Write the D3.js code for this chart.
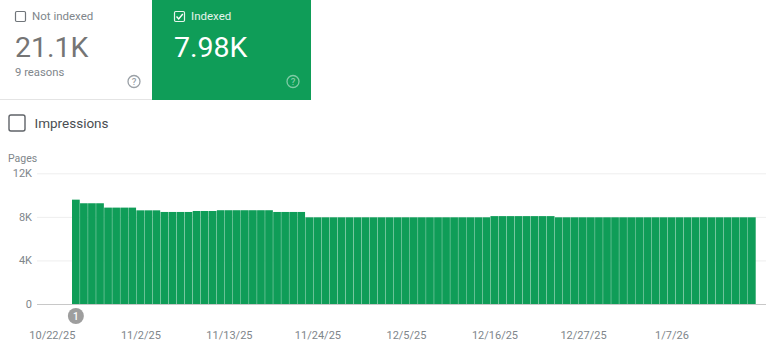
<!DOCTYPE html>
<html>
<head>
<meta charset="utf-8" />
<style>
  html, body { margin: 0; background: #fff; overflow: hidden; }
  svg { display: block; font-family: Roboto, sans-serif; }
</style>
<script src="https://cdn.jsdelivr.net/npm/d3@7"></script>
</head>
<body>
<div id="chart"></div>
<script>
// daily indexed pages
const indexedPages = [
  9580,
  9250, 9250, 9250,
  8850, 8850, 8850, 8850,
  8600, 8600, 8600,
  8450, 8450, 8450, 8450,
  8540, 8540, 8540,
  8610, 8610, 8610, 8610, 8610, 8610, 8610,
  8450, 8450, 8450, 8450,
  7960, 7960, 7960, 7960, 7960, 7960, 7960, 7960, 7960, 7960, 7960, 7960,
  7960, 7960, 7960, 7960, 7960, 7960, 7960, 7960, 7960, 7960, 7960,
  8070, 8070, 8070, 8070, 8070, 8070, 8070, 8070,
  7960, 7960, 7960, 7960, 7960, 7960, 7960, 7960, 7960, 7960, 7960, 7960, 7960,
  7960, 7960, 7960, 7960, 7960, 7960, 7960, 7960, 7960, 7960, 7960, 7960,
];
const yTicks = [0, 4000, 8000, 12000];
const yTickLabels = ["0", "4K", "8K", "12K"];
const dateTickIndex = [0, 11, 22, 33, 44, 55, 66, 77];
const dateTickLabels = [
  "10/22/25",
  "11/2/25",
  "11/13/25",
  "11/24/25",
  "12/5/25",
  "12/16/25",
  "12/27/25",
  "1/7/26",
];
const annotationIndex = [0];

const width = 768;
const height = 351;
const green = "#0f9d58";

const svg = d3
  .select("#chart")
  .append("svg")
  .attr("width", width)
  .attr("height", height);

function addText(x, y, text, size, color, weight) {
  return svg
    .append("text")
    .attr("x", x)
    .attr("y", y)
    .attr("font-size", size)
    .attr("font-weight", weight || 400)
    .attr("fill", color)
    .text(text);
}

function addHelpIcon(cx, cy, color) {
  svg
    .append("circle")
    .attr("cx", cx)
    .attr("cy", cy)
    .attr("r", 6)
    .attr("fill", "none")
    .attr("stroke", color)
    .attr("stroke-width", 1.3);
  addText(cx, cy + 3.3, "?", 9.5, color, 500).attr("text-anchor", "middle");
}

// 上方兩張卡片
svg
  .append("rect")
  .attr("x", 152)
  .attr("y", 0)
  .attr("width", 159)
  .attr("height", 100)
  .attr("fill", green);
svg
  .append("line")
  .attr("x1", 0)
  .attr("x2", 152)
  .attr("y1", 99.5)
  .attr("y2", 99.5)
  .attr("stroke", "#e4e4e4");

svg
  .append("rect")
  .attr("x", 15.5)
  .attr("y", 11.5)
  .attr("width", 10)
  .attr("height", 10)
  .attr("rx", 1.2)
  .attr("fill", "none")
  .attr("stroke", "#70757a")
  .attr("stroke-width", 1.2);
addText(32, 19.5, "Not indexed", 11.5, "#80868b");
addText(15, 57, "21.1K", 28.5, "#757575");
addText(15, 76, "9 reasons", 11.3, "#80868b");
addHelpIcon(134, 81.5, "#9aa0a6");

svg
  .append("rect")
  .attr("x", 174.5)
  .attr("y", 11.5)
  .attr("width", 10)
  .attr("height", 10)
  .attr("rx", 1.2)
  .attr("fill", "none")
  .attr("stroke", "#e6f4ec")
  .attr("stroke-width", 1.2);
svg
  .append("path")
  .attr("d", d3.line()([[176.5, 16.5], [178.7, 19], [182.8, 14]]))
  .attr("fill", "none")
  .attr("stroke", "#fff")
  .attr("stroke-width", 1.4);
addText(191, 19.5, "Indexed", 11.5, "#e6f4ec");
addText(174, 57, "7.98K", 28.5, "#fff");
addHelpIcon(293, 81.5, "#7fcba5");

// Impressions 勾選框
svg
  .append("rect")
  .attr("x", 9)
  .attr("y", 115)
  .attr("width", 16)
  .attr("height", 16)
  .attr("rx", 2)
  .attr("fill", "none")
  .attr("stroke", "#5f6368")
  .attr("stroke-width", 1.4);
addText(34.5, 128, "Impressions", 13.5, "#4a4e52");

addText(8, 162, "Pages", 10.5, "#80868b");

// 比例尺
const x = d3
  .scaleBand()
  .domain(d3.range(indexedPages.length))
  .range([72, 755.7])
  .paddingInner(0.04)
  .paddingOuter(0);

const y = d3.scaleLinear().domain([0, 12000]).range([304, 173.3]);

// 橫向格線與 Y 軸
const yAxis = svg
  .append("g")
  .attr("transform", "translate(37, 0)")
  .call(
    d3
      .axisLeft(y)
      .tickValues(yTicks)
      .tickFormat((d, i) => yTickLabels[i])
      .tickSize(-729)
      .tickPadding(5)
  );
yAxis.select(".domain").remove();
yAxis
  .selectAll("line")
  .attr("stroke", (d) => (d === 0 ? "#c8c8c8" : "#eeeeee"))
  .attr("stroke-width", 1);
yAxis
  .selectAll("text")
  .attr("font-family", "Roboto, sans-serif")
  .attr("font-size", 11)
  .attr("fill", "#80868b");

// 長條
svg
  .append("g")
  .selectAll("rect")
  .data(indexedPages)
  .enter()
  .append("rect")
  .attr("x", (d, i) => x(i))
  .attr("y", (d) => y(d))
  .attr("width", x.bandwidth())
  .attr("height", (d) => y(0) - y(d))
  .attr("fill", green);

// 註記圓點
const marker = svg
  .append("g")
  .selectAll("g")
  .data(annotationIndex)
  .enter()
  .append("g")
  .attr("transform", (d) => `translate(${x(d) + x.bandwidth() / 2}, 316)`);
marker.append("circle").attr("r", 8).attr("fill", "#9e9e9e");
marker
  .append("text")
  .attr("y", 3.5)
  .attr("text-anchor", "middle")
  .attr("font-size", 10)
  .attr("font-weight", 500)
  .attr("fill", "#fff")
  .text((d, i) => i + 1);

// X 軸：標籤相對於長條中心往左偏
const xAxis = svg
  .append("g")
  .attr("transform", "translate(-23.5, 331)")
  .call(
    d3
      .axisBottom(x)
      .tickValues(dateTickIndex)
      .tickFormat((d, i) => dateTickLabels[i])
      .tickSize(0)
      .tickPadding(0)
  );
xAxis.select(".domain").remove();
xAxis
  .selectAll("text")
  .attr("font-family", "Roboto, sans-serif")
  .attr("font-size", 11)
  .attr("fill", "#80868b");
</script>
</body>
</html>
